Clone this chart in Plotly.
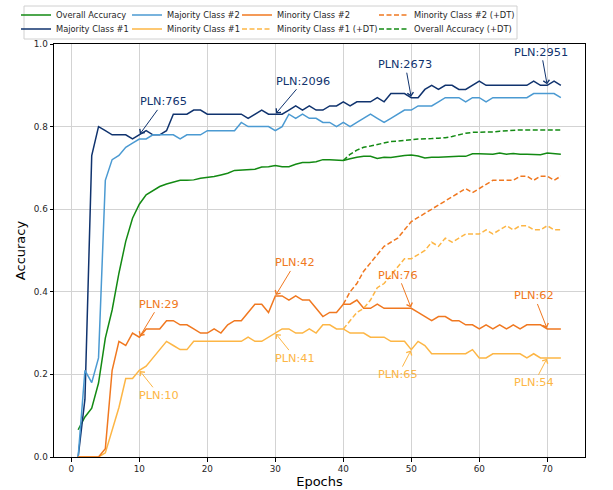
import plotly.graph_objects as go

epochs = list(range(1, 73))
dt_epochs = list(range(40, 73))

overall = [0.066, 0.097, 0.118, 0.179, 0.288, 0.356, 0.445, 0.522, 0.578, 0.612,
           0.635, 0.645, 0.655, 0.661, 0.665, 0.670, 0.670, 0.671, 0.675, 0.677,
           0.679, 0.683, 0.687, 0.694, 0.695, 0.695, 0.697, 0.702, 0.703, 0.706,
           0.703, 0.703, 0.709, 0.713, 0.713, 0.715, 0.720, 0.720, 0.719, 0.718,
           0.722, 0.726, 0.728, 0.728, 0.723, 0.726, 0.725, 0.728, 0.730, 0.731,
           0.729, 0.724, 0.726, 0.726, 0.727, 0.728, 0.728, 0.728, 0.734, 0.734,
           0.734, 0.733, 0.736, 0.733, 0.735, 0.733, 0.733, 0.733, 0.732, 0.736,
           0.735, 0.733]

majority1 = [0.0, 0.14, 0.73, 0.80, 0.79, 0.78, 0.78, 0.78, 0.77, 0.78,
             0.79, 0.78, 0.78, 0.79, 0.83, 0.83, 0.83, 0.84, 0.84, 0.83,
             0.83, 0.83, 0.83, 0.83, 0.83, 0.82, 0.83, 0.84, 0.83, 0.83,
             0.83, 0.84, 0.85, 0.84, 0.85, 0.84, 0.84, 0.85, 0.85, 0.86,
             0.85, 0.86, 0.86, 0.86, 0.87, 0.86, 0.88, 0.88, 0.88, 0.87,
             0.87, 0.89, 0.90, 0.89, 0.90, 0.90, 0.89, 0.89, 0.90, 0.91,
             0.90, 0.90, 0.90, 0.90, 0.90, 0.90, 0.90, 0.91, 0.90, 0.90,
             0.91, 0.90]

majority2 = [0.0, 0.21, 0.18, 0.24, 0.67, 0.72, 0.73, 0.75, 0.76, 0.77,
             0.77, 0.78, 0.78, 0.78, 0.78, 0.77, 0.78, 0.78, 0.78, 0.79,
             0.79, 0.79, 0.79, 0.79, 0.81, 0.80, 0.80, 0.80, 0.80, 0.79,
             0.80, 0.83, 0.82, 0.83, 0.82, 0.82, 0.81, 0.81, 0.80, 0.81,
             0.80, 0.81, 0.82, 0.83, 0.82, 0.81, 0.82, 0.83, 0.84, 0.84,
             0.85, 0.85, 0.85, 0.86, 0.87, 0.87, 0.87, 0.86, 0.87, 0.87,
             0.86, 0.87, 0.87, 0.87, 0.87, 0.87, 0.87, 0.88, 0.88, 0.88,
             0.88, 0.87]

minority2 = [0.0, 0.0, 0.0, 0.0, 0.02, 0.21, 0.28, 0.27, 0.30, 0.29,
             0.31, 0.31, 0.31, 0.33, 0.33, 0.32, 0.32, 0.31, 0.30, 0.30,
             0.31, 0.30, 0.32, 0.33, 0.33, 0.35, 0.37, 0.37, 0.35, 0.39,
             0.39, 0.38, 0.39, 0.38, 0.38, 0.36, 0.34, 0.35, 0.35, 0.37,
             0.37, 0.38, 0.36, 0.36, 0.37, 0.36, 0.36, 0.36, 0.36, 0.36,
             0.35, 0.34, 0.33, 0.34, 0.34, 0.33, 0.33, 0.32, 0.32, 0.31,
             0.32, 0.31, 0.32, 0.31, 0.32, 0.31, 0.32, 0.32, 0.32, 0.31,
             0.31, 0.31]

minority1 = [0.0, 0.0, 0.0, 0.0, 0.01, 0.066, 0.12, 0.19, 0.19, 0.21,
             0.22, 0.24, 0.26, 0.28, 0.27, 0.26, 0.26, 0.28, 0.28, 0.28,
             0.28, 0.28, 0.28, 0.28, 0.28, 0.29, 0.28, 0.28, 0.29, 0.30,
             0.31, 0.31, 0.30, 0.30, 0.31, 0.30, 0.32, 0.32, 0.31, 0.31,
             0.30, 0.30, 0.30, 0.29, 0.29, 0.29, 0.28, 0.28, 0.28, 0.26,
             0.28, 0.27, 0.25, 0.25, 0.25, 0.25, 0.25, 0.25, 0.26, 0.24,
             0.24, 0.25, 0.25, 0.25, 0.25, 0.25, 0.24, 0.25, 0.24, 0.24,
             0.24, 0.24]

minority1_dt = [0.31, 0.33, 0.35, 0.36, 0.38, 0.41, 0.42, 0.44, 0.46, 0.48,
                0.48, 0.49, 0.50, 0.52, 0.51, 0.53, 0.52, 0.53, 0.54, 0.54,
                0.54, 0.55, 0.54, 0.55, 0.56, 0.55, 0.56, 0.56, 0.55, 0.55,
                0.56, 0.55, 0.55]

minority2_dt = [0.37, 0.40, 0.42, 0.45, 0.47, 0.49, 0.51, 0.52, 0.53, 0.55,
                0.57, 0.58, 0.59, 0.60, 0.61, 0.62, 0.63, 0.64, 0.65, 0.64,
                0.65, 0.66, 0.67, 0.67, 0.67, 0.67, 0.68, 0.68, 0.67, 0.68,
                0.68, 0.67, 0.68]

overall_dt = [0.718, 0.733, 0.743, 0.750, 0.753, 0.757, 0.760, 0.764, 0.765, 0.766,
              0.768, 0.770, 0.770, 0.771, 0.772, 0.773, 0.776, 0.780, 0.784, 0.786,
              0.786, 0.787, 0.787, 0.789, 0.790, 0.792, 0.792, 0.792, 0.792, 0.792,
              0.792, 0.792, 0.792]

# annotations: label, series, epoch
ann_labels = ["PLN:765", "PLN:2096", "PLN:2673", "PLN:2951",
              "PLN:29", "PLN:42", "PLN:76", "PLN:62",
              "PLN:10", "PLN:41", "PLN:65", "PLN:54"]
ann_series = ["maj1", "maj1", "maj1", "maj1",
              "min2", "min2", "min2", "min2",
              "min1", "min1", "min1", "min1"]
ann_epochs = [10, 30, 50, 70, 10, 30, 50, 70, 10, 30, 50, 70]

# ---------------- styling ----------------
C_GREEN = "#138a13"
C_NAVY = "#10336e"
C_LBLUE = "#4b9ad2"
C_ORANGE = "#f07820"
C_LORANGE = "#fdb645"
FONT = "DejaVu Sans"
DASH = "5px,2.5px"

W, H = 613, 490
ML, MR, MT, MB = 54, 28, 44, 33
PW, PH = W - ML - MR, H - MT - MB

series = {"overall": overall, "maj1": majority1, "maj2": majority2,
          "min1": minority1, "min2": minority2}
series_color = {"maj1": C_NAVY, "min1": C_LORANGE, "min2": C_ORANGE}

fig = go.Figure()

# legend layout (column text px start, row center px) per trace
traces = [
    ("Overall Accuracy", epochs, overall, C_GREEN, "solid", 56, 15),
    ("Majority Class #1", epochs, majority1, C_NAVY, "solid", 56, 29),
    ("Majority Class #2", epochs, majority2, C_LBLUE, "solid", 167, 15),
    ("Minority Class #1", epochs, minority1, C_LORANGE, "solid", 167, 29),
    ("Minority Class #2", epochs, minority2, C_ORANGE, "solid", 277, 15),
    ("Minority Class #1 (+DT)", dt_epochs, minority1_dt, C_LORANGE, DASH, 277, 29),
    ("Minority Class #2 (+DT)", dt_epochs, minority2_dt, C_ORANGE, DASH, 414, 15),
    ("Overall Accuracy (+DT)", dt_epochs, overall_dt, C_GREEN, DASH, 414, 29),
]

legend_layouts = {}
for i, (name, xs, ys, col, dash, tx, ty) in enumerate(traces):
    lname = "legend" if i == 0 else f"legend{i+1}"
    fig.add_trace(go.Scatter(x=xs, y=ys, mode="lines", name=name,
                             line=dict(color=col, width=1.5, dash=dash),
                             legend=lname, showlegend=True))
    legend_layouts[lname] = dict(
        x=(tx - 40 - ML) / PW, xanchor="left",
        y=(H - MB - ty) / PH, yanchor="middle",
        bgcolor="rgba(0,0,0,0)", borderwidth=0,
        font=dict(family=FONT, size=8.3, color="#262626"),
        itemwidth=30, tracegroupgap=0,
    )

# annotation offsets (text center relative to arrow tip, px)
ann_offsets = [(24, -33), (28, -33), (-6, -33), (-6, -33),
               (20, -33), (20, -33), (-13, -33), (-13, -33),
               (20, 25), (20, 25), (-13, 25), (-13, 25)]

annotations = []
for lab, key, ep, (ox, oy) in zip(ann_labels, ann_series, ann_epochs, ann_offsets):
    yv = series[key][epochs.index(ep)]
    annotations.append(dict(
        x=ep, y=yv, xref="x", yref="y", text=lab, showarrow=True,
        ax=ox, ay=oy, arrowhead=4, arrowsize=1.2, arrowwidth=1,
        arrowcolor=series_color[key], standoff=1,
        font=dict(family=FONT, size=11.3, color=series_color[key]),
    ))

fig.update_layout(
    width=W, height=H,
    margin=dict(l=ML, r=MR, t=MT, b=MB, autoexpand=False),
    paper_bgcolor="white", plot_bgcolor="white",
    font=dict(family=FONT, size=8.5, color="#262626"),
    annotations=annotations,
    shapes=[dict(type="rect", xref="paper", yref="paper",
                 x0=(24 - ML) / PW, x1=(517 - ML) / PW,
                 y0=(H - MB - 39) / PH, y1=(H - MB - 6) / PH,
                 line=dict(color="#d0d0d0", width=1),
                 fillcolor="rgba(255,255,255,0.8)", layer="above")],
    **legend_layouts,
)

fig.update_xaxes(range=[-2.55, 75.55], tickvals=[0, 10, 20, 30, 40, 50, 60, 70],
                 showgrid=True, gridcolor="#d3d3d3", gridwidth=1,
                 showline=True, linecolor="black", linewidth=1, mirror=True,
                 ticks="outside", ticklen=3.5, tickcolor="black", tickwidth=1,
                 zeroline=False,
                 tickfont=dict(family=FONT, size=8.8, color="#262626"),
                 title=dict(text="Epochs", font=dict(family=FONT, size=13, color="black"),
                            standoff=3))
fig.update_yaxes(range=[0, 1.0], tickvals=[0, 0.2, 0.4, 0.6, 0.8, 1.0], tickformat=".1f",
                 showgrid=True, gridcolor="#d3d3d3", gridwidth=1,
                 showline=True, linecolor="black", linewidth=1, mirror=True,
                 ticks="outside", ticklen=3.5, tickcolor="black", tickwidth=1,
                 zeroline=False,
                 tickfont=dict(family=FONT, size=8.8, color="#262626"),
                 title=dict(text="Accuracy", font=dict(family=FONT, size=13, color="black"),
                            standoff=5))

fig.write_html("out.html")
